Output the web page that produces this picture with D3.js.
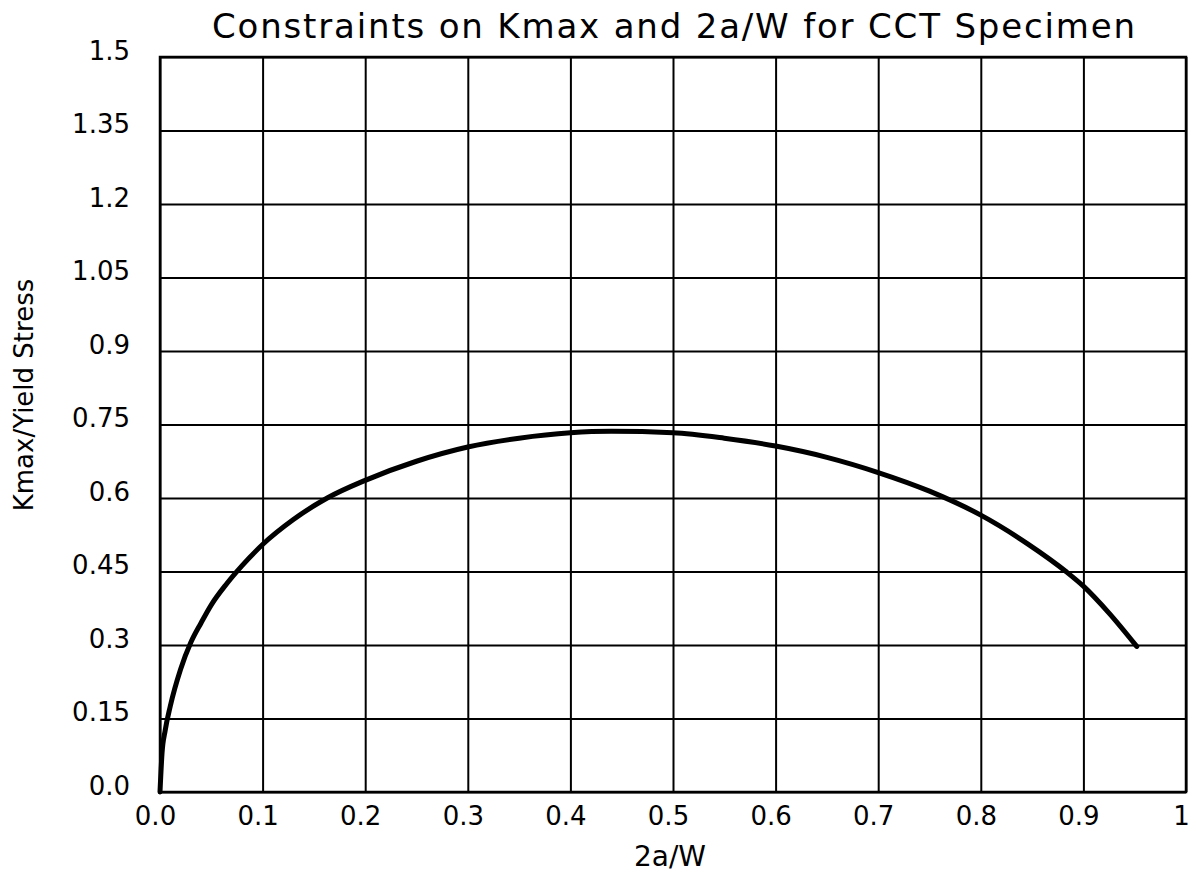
<!DOCTYPE html>
<html lang="en">
<head>
    <meta charset="UTF-8">
    <title>CCT Specimen constraints</title>
    <script src="https://d3js.org/d3.v7.min.js"></script>
    <style>
        body { margin: 0; background: #fff; }
        text { font-family: "DejaVu Sans", sans-serif; fill: #000; }
    </style>
</head>
<body>
    <div id="chart"></div>
    <script>
        // values
        var crackRatio = [0, 0.002, 0.005, 0.01, 0.02, 0.03, 0.04, 0.05, 0.065, 0.08, 0.1, 0.13, 0.163, 0.2, 0.25, 0.3, 0.35, 0.4, 0.44,
                          0.5, 0.55, 0.6, 0.65, 0.7, 0.75, 0.8, 0.846, 0.883, 0.9, 0.925, 0.952];
        var kmaxYield = [0, 0.08, 0.125, 0.175, 0.25, 0.305, 0.345, 0.382, 0.425, 0.462, 0.505, 0.556, 0.6, 0.636, 0.675, 0.704, 0.722, 0.733, 0.736,
                         0.733, 0.722, 0.706, 0.683, 0.652, 0.614, 0.565, 0.506, 0.45, 0.42, 0.365, 0.297];
        var xTicks = [0, 0.1, 0.2, 0.3, 0.4, 0.5, 0.6, 0.7, 0.8, 0.9, 1];
        var xTickLabels = ["0.0", "0.1", "0.2", "0.3", "0.4", "0.5", "0.6", "0.7", "0.8", "0.9", "1"];
        var yTicks = [0, 0.15, 0.3, 0.45, 0.6, 0.75, 0.9, 1.05, 1.2, 1.35, 1.5];
        var yTickLabels = ["0.0", "0.15", "0.3", "0.45", "0.6", "0.75", "0.9", "1.05", "1.2", "1.35", "1.5"];

        var margin = {top: 57, right: 10, bottom: 94, left: 160},
            width = 1186 - margin.left,
            height = 792 - margin.top;

        var svg = d3.select("#chart")
            .append("svg")
            .attr("width", 1196)
            .attr("height", 886);

        var g = svg.append("g")
            .attr("transform", "translate(" + margin.left + "," + margin.top + ")");

        var x = d3.scaleLinear().domain([0, 1]).range([0, width]);
        var y = d3.scaleLinear().domain([0, 1.5]).range([height, 0]);

        // grid + ticks
        var xAxis = g.append("g")
            .attr("transform", "translate(0," + height + ")")
            .call(d3.axisBottom(x).tickValues(xTicks).tickSize(-height)
                .tickFormat(function(d, i) { return xTickLabels[i]; }));
        var yAxis = g.append("g")
            .call(d3.axisLeft(y).tickValues(yTicks).tickSize(-width)
                .tickFormat(function(d, i) { return yTickLabels[i]; }));

        [xAxis, yAxis].forEach(function(a) {
            a.select(".domain").remove();
            a.selectAll(".tick line").attr("stroke", "#000").attr("stroke-width", 2);
            a.selectAll(".tick text").attr("fill", "#000").attr("font-family", "DejaVu Sans");
        });
        xAxis.selectAll(".tick text")
            .attr("font-size", 26)
            .attr("y", 0).attr("dy", 33).attr("dx", -5);
        yAxis.selectAll(".tick text")
            .attr("font-size", 26)
            .attr("x", -30).attr("dy", 2)
            .attr("dominant-baseline", "auto");

        g.append("rect")
            .attr("width", width)
            .attr("height", height)
            .attr("fill", "none")
            .attr("stroke", "#000")
            .attr("stroke-width", 2.5);

        var line = d3.line()
            .x(function(d) { return x(d); })
            .y(function(d, i) { return y(kmaxYield[i]); })
            .curve(d3.curveMonotoneX);

        g.append("path")
            .datum(crackRatio)
            .attr("d", line)
            .attr("fill", "none")
            .attr("stroke", "#000")
            .attr("stroke-width", 5)
            .attr("stroke-linecap", "round");

        svg.append("text")
            .attr("x", 212)
            .attr("y", 38)
            .attr("font-size", 34)
            .attr("textLength", 923)
            .attr("lengthAdjust", "spacing")
            .text("Constraints on Kmax and 2a/W for CCT Specimen");

        svg.append("text")
            .attr("x", 670)
            .attr("y", 866)
            .attr("text-anchor", "middle")
            .attr("font-size", 28)
            .text("2a/W");

        svg.append("text")
            .attr("transform", "translate(33,395) rotate(-90)")
            .attr("text-anchor", "middle")
            .attr("font-size", 26)
            .text("Kmax/Yield Stress");
    </script>
</body>
</html>
